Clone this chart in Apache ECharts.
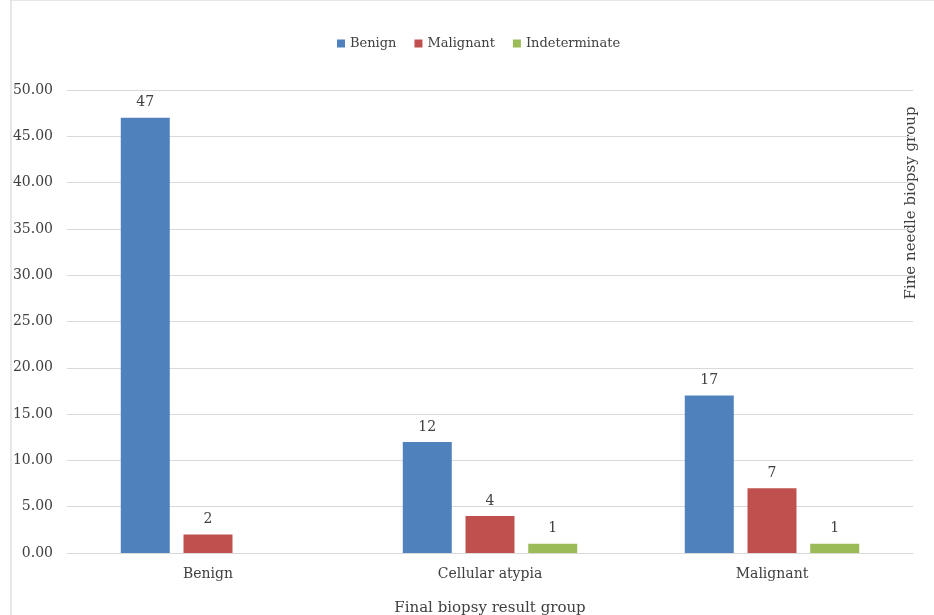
<!DOCTYPE html>
<html>
<head>
<meta charset="utf-8">
<script src="https://cdn.jsdelivr.net/npm/echarts@6/dist/echarts.min.js"></script>
<style>
  html, body { margin: 0; padding: 0; background: #fff; }
  #chart { width: 934px; height: 615px; }
</style>
</head>
<body>
<div id="chart"></div>
<script>
const categories = ['Benign', 'Cellular atypia', 'Malignant']
const benign = [47, 12, 17]
const malignant = [2, 4, 7]
const indeterminate = [null, 1, 1]

const font = 'DejaVu Serif'
const chart = echarts.init(document.getElementById('chart'))

const barLabel = {
    show: true,
    position: 'top',
    distance: 8,
    color: '#404040',
    fontFamily: font,
    fontSize: 14
}

chart.setOption({
    animation: false,
    textStyle: { fontFamily: font },
    legend: {
        top: 32,
        left: 332,
        icon: 'rect',
        itemWidth: 8,
        itemHeight: 8,
        itemGap: 18,
        textStyle: { color: '#404040', fontFamily: font, fontSize: 13 },
        data: ['Benign', 'Malignant', 'Indeterminate']
    },
    grid: { left: 67, right: 21, top: 90, bottom: 62, outerBoundsMode: 'none' },
    graphic: [
        {
            type: 'rect',
            shape: { x: 11, y: 0, width: 940, height: 640 },
            style: { fill: 'none', stroke: '#d0d0d0', lineWidth: 1 }
        },
        {
            type: 'text',
            x: 911,
            y: 203,
            rotation: Math.PI / 2,
            style: {
                text: 'Fine needle biopsy group',
                fill: '#404040',
                font: '15px "DejaVu Serif"',
                align: 'center',
                verticalAlign: 'middle'
            }
        }
    ],
    xAxis: {
        type: 'category',
        data: categories,
        name: 'Final biopsy result group',
        nameLocation: 'middle',
        nameGap: 48,
        nameTextStyle: { color: '#404040', fontSize: 15, fontFamily: font },
        axisLine: { lineStyle: { color: '#d9d9d9' } },
        axisTick: { show: false },
        axisLabel: { color: '#404040', fontSize: 14, margin: 14 }
    },
    yAxis: {
        type: 'value',
        min: 0,
        max: 50,
        interval: 5,
        axisLine: { show: false },
        axisTick: { show: false },
        axisLabel: {
            color: '#404040',
            fontSize: 14,
            margin: 14,
            formatter: v => v.toFixed(2)
        },
        splitLine: { lineStyle: { color: '#d9d9d9' } }
    },
    series: [
        {
            name: 'Benign',
            type: 'bar',
            data: benign,
            barWidth: 49,
            barGap: '28%',
            itemStyle: { color: '#4F81BD' },
            label: barLabel
        },
        {
            name: 'Malignant',
            type: 'bar',
            data: malignant,
            barWidth: 49,
            barGap: '28%',
            itemStyle: { color: '#C0504D' },
            label: barLabel
        },
        {
            name: 'Indeterminate',
            type: 'bar',
            data: indeterminate,
            barWidth: 49,
            barGap: '28%',
            itemStyle: { color: '#9BBB59' },
            label: barLabel
        }
    ]
})

window.addEventListener('resize', () => chart.resize())
</script>
</body>
</html>
